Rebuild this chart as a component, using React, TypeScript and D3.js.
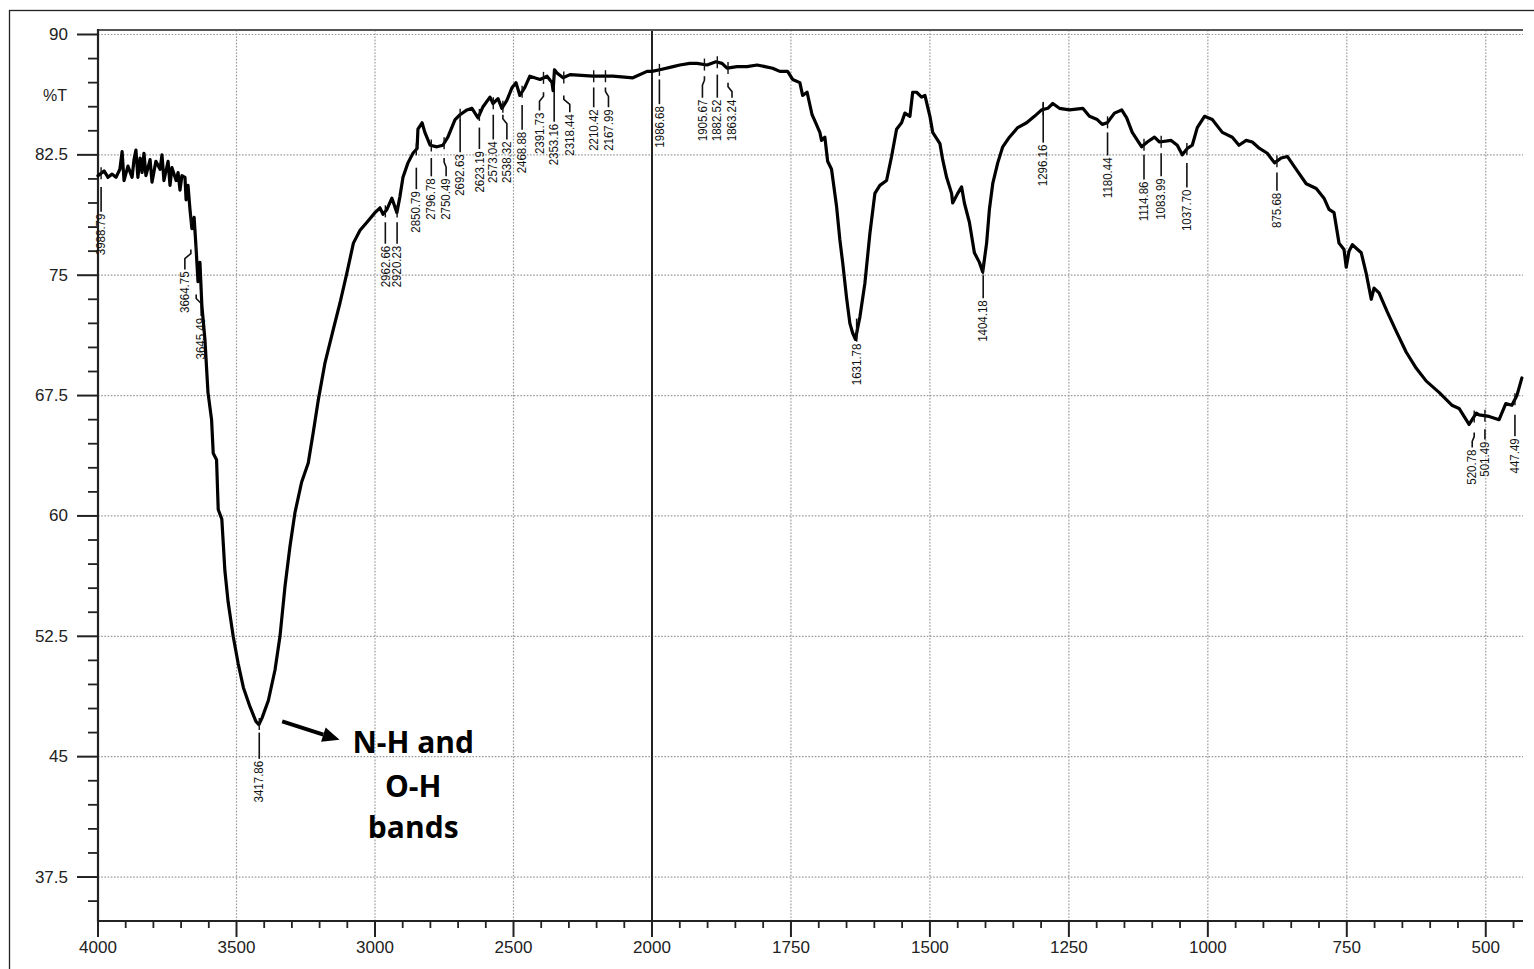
import React from "react";
import * as d3 from "d3";

// ---------- DATA ----------
// FTIR spectrum: [wavenumber (cm-1), %T]
const ohRegion: [number, number][] = [
  [4000, 81.2], [3978, 81.5], [3964, 81.1], [3949, 81.3], [3935, 81.1], [3921, 81.6], [3913, 82.7],
  [3906, 80.9], [3892, 81.8], [3877, 81.1], [3870, 82.2], [3863, 82.8], [3856, 81.1], [3848, 82.3],
  [3841, 81.4], [3834, 82.6], [3827, 81.2], [3812, 82.2], [3805, 80.8], [3791, 82.1], [3776, 81.6],
  [3769, 82.5], [3762, 80.9], [3747, 82.1], [3740, 80.6], [3733, 81.7], [3718, 80.9], [3711, 81.4],
  [3704, 80.3], [3697, 81.2], [3686, 81.1], [3682, 79.7], [3675, 80.6], [3668, 79.1], [3661, 77.9],
  [3653, 78.6], [3646, 76.7], [3639, 74.6], [3632, 75.8], [3625, 73.1], [3614, 71.0], [3603, 67.7],
  [3590, 66.0], [3584, 63.9], [3572, 63.5], [3566, 60.4], [3553, 59.8], [3542, 56.6], [3530, 54.6],
  [3512, 52.5], [3494, 50.8], [3475, 49.3], [3451, 48.1], [3430, 47.2], [3419, 47.0], [3408, 47.4],
  [3385, 48.5], [3361, 50.4], [3343, 52.5], [3325, 55.6], [3307, 58.1], [3289, 60.2], [3265, 62.1],
  [3241, 63.3], [3223, 65.2], [3205, 67.2], [3181, 69.5], [3151, 71.6], [3126, 73.3], [3102, 75.1],
  [3078, 77.0], [3054, 77.8], [3029, 78.3],
];

const chRegion: [number, number][] = [
  [3000, 78.9], [2982, 79.2], [2971, 78.8], [2957, 79.1], [2939, 79.8], [2921, 78.9], [2910, 79.9],
  [2899, 81.1], [2881, 82.0], [2863, 82.6], [2848, 82.9], [2845, 84.1], [2830, 84.5], [2820, 83.9],
  [2801, 83.1], [2776, 83.0], [2755, 83.1], [2737, 83.6], [2711, 84.7], [2693, 85.0], [2668, 85.3],
  [2650, 85.4], [2628, 84.8], [2610, 85.5], [2585, 86.1], [2574, 85.7], [2556, 86.0], [2542, 85.4],
  [2524, 85.9], [2505, 86.7], [2491, 87.0], [2477, 86.2], [2459, 86.7], [2441, 87.4], [2404, 87.2],
  [2379, 87.4], [2361, 87.0], [2357, 86.5], [2352, 87.8], [2343, 87.6], [2321, 87.3], [2296, 87.5],
  [2213, 87.4], [2141, 87.4], [2069, 87.3], [2018, 87.7],
];

const amideRegion: [number, number][] = [
  [2000, 87.7], [1986, 87.8], [1962, 88.0], [1950, 88.1], [1932, 88.2], [1919, 88.2], [1901, 88.1],
  [1885, 88.3], [1874, 88.2], [1865, 87.9], [1847, 88.0], [1829, 88.0], [1811, 88.1], [1783, 87.9],
  [1770, 87.7], [1756, 87.7], [1747, 87.2], [1734, 87.0], [1729, 86.2], [1721, 86.4], [1712, 85.0],
  [1708, 84.7], [1698, 83.9], [1695, 83.4], [1689, 83.6], [1684, 82.1], [1677, 81.6], [1668, 79.3],
  [1662, 77.2], [1657, 75.8], [1650, 73.6], [1644, 72.0], [1639, 71.4], [1634, 71.0], [1626, 72.4],
  [1617, 74.5], [1608, 77.6], [1599, 80.1], [1590, 80.6], [1578, 80.9], [1569, 82.4], [1560, 84.1],
  [1551, 84.5], [1545, 85.1], [1536, 84.9], [1531, 86.4], [1524, 86.4], [1515, 86.1], [1509, 86.2],
  [1500, 84.9], [1495, 83.9], [1482, 83.2], [1477, 82.2], [1470, 81.1], [1461, 80.1], [1459, 79.5],
  [1450, 80.1], [1443, 80.5], [1438, 79.5], [1429, 78.3], [1420, 76.4], [1411, 75.8], [1405, 75.2],
  [1398, 77.0], [1393, 79.1], [1387, 80.7], [1378, 82.0], [1369, 83.0], [1357, 83.6], [1342, 84.2],
  [1326, 84.5], [1312, 84.9], [1299, 85.3], [1288, 85.4], [1279, 85.7], [1267, 85.4],
];

const fingerprintRegion: [number, number][] = [
  [1249, 85.3], [1225, 85.4], [1213, 84.9], [1199, 84.7], [1190, 84.4], [1181, 84.5], [1168, 85.1],
  [1155, 85.3], [1146, 84.8], [1136, 83.9], [1119, 83.0], [1109, 83.3], [1096, 83.6], [1087, 83.3],
  [1066, 83.4], [1055, 83.1], [1046, 82.5], [1037, 82.9], [1028, 83.1], [1019, 84.2], [1006, 84.9],
  [992, 84.7], [974, 83.9], [956, 83.6], [944, 83.1], [931, 83.4], [920, 83.3], [907, 82.9],
  [893, 82.6], [880, 82.0], [868, 82.3], [857, 82.4], [841, 81.6], [823, 80.7], [805, 80.4],
  [791, 79.8], [782, 79.1], [773, 78.9], [764, 77.0], [755, 76.6], [751, 75.5], [746, 76.5],
  [740, 76.9], [724, 76.4], [715, 75.1], [706, 73.5], [701, 74.2], [692, 73.9], [677, 72.7],
  [661, 71.5], [643, 70.2], [625, 69.2], [607, 68.4], [584, 67.7], [561, 66.9], [548, 66.7],
  [530, 65.7], [517, 66.4], [512, 66.3], [494, 66.2], [476, 66.0], [464, 67.0], [453, 66.9],
  [444, 67.5], [435, 68.6],
];

// Peak labels
const peakWavenumbers = [
  3988.79, 3664.75, 3645.49, 3417.86, 2962.66, 2920.23, 2850.79, 2796.78, 2750.49, 2692.63,
  2623.19, 2573.04, 2538.32, 2468.88, 2391.73, 2353.16, 2318.44, 2210.42, 2167.99, 1986.68,
  1905.67, 1882.52, 1863.24, 1631.78, 1404.18, 1296.16, 1180.44, 1114.86, 1083.99, 1037.7,
  875.68, 520.78, 501.49, 447.49,
];
const peakLabels = [
  "3988.79", "3664.75", "3645.49", "3417.86", "2962.66", "2920.23", "2850.79", "2796.78", "2750.49", "2692.63",
  "2623.19", "2573.04", "2538.32", "2468.88", "2391.73", "2353.16", "2318.44", "2210.42", "2167.99", "1986.68",
  "1905.67", "1882.52", "1863.24", "1631.78", "1404.18", "1296.16", "1180.44", "1114.86", "1083.99", "1037.70",
  "875.68", "520.78", "501.49", "447.49",
];

// x-axis and y-axis ticks
const xMajorTicks = [4000, 3500, 3000, 2500, 2000, 1750, 1500, 1250, 1000, 750, 500];
const yMajorTicks = [37.5, 45, 52.5, 60, 67.5, 75, 82.5, 90];
const yTickLabels = ["37.5", "45", "52.5", "60", "67.5", "75", "82.5", "90"];
const annotationLines = ["N-H and", "O-H", "bands"];

// ---------- LAYOUT (label placement, in %T units / px offsets) ----------
const labelStemTop = [
  80.5, 76.6, 73.8, 46.5, 78.3, 78.3, 81.7, 82.3, 82.3, 84.7,
  84.2, 85.0, 85.0, 85.6, 86.4, 86.7, 86.2, 86.7, 86.7, 87.2,
  87.4, 87.5, 87.0, 72.3, 75.0, 85.8, 83.9, 82.5, 82.6, 82.0,
  81.4, 65.2, 65.4, 66.3,
];
const labelTextTop = [
  78.9, 75.3, 72.4, 44.8, 76.9, 76.9, 80.3, 81.1, 81.1, 82.6,
  82.8, 83.4, 83.4, 84.0, 85.2, 84.5, 85.1, 85.4, 85.4, 85.6,
  86.0, 86.0, 86.0, 70.8, 73.5, 83.2, 82.4, 80.9, 81.1, 80.4,
  80.2, 64.2, 64.7, 64.9,
];
const labelDx = [
  0, -6, 5, 0, 0, 0, 0, 0, 2, 0,
  0, 0, 4, 0, -4, 0, 6, 0, 3, 0,
  -2, 0, 4, 0, 0, 0, 0, 0, 0, 0,
  0, -2, 0, 0,
];

const W = 1534;
const H = 969;

export default function App() {
  const spectrum = [...ohRegion, ...chRegion, ...amideRegion, ...fingerprintRegion];

  const xScale = d3.scaleLinear().domain([4000, 2000, 433]).range([98, 652, 1523]);
  const yScale = d3.scaleLinear().domain([34.76, 90.28]).range([921, 30]);

  const line = d3
    .line<[number, number]>()
    .x((d) => xScale(d[0]))
    .y((d) => yScale(d[1]));

  // interpolate curve value at a wavenumber
  const asc = [...spectrum].sort((a, b) => a[0] - b[0]);
  const interpT = (wn: number) => {
    const i = d3.bisector((d: [number, number]) => d[0]).left(asc, wn);
    if (i <= 0) return asc[0][1];
    if (i >= asc.length) return asc[asc.length - 1][1];
    const a = asc[i - 1];
    const b = asc[i];
    const t = (wn - a[0]) / (b[0] - a[0]);
    return a[1] + t * (b[1] - a[1]);
  };

  const xMinorLeft = d3.range(3900, 2000, -100);
  const xMinorRight = d3.range(1950, 433, -50);
  const xMinor = [...xMinorLeft, ...xMinorRight].filter((v) => !xMajorTicks.includes(v));
  const yMinor = d3.range(36, 90.01, 1.5).filter((v) => !yMajorTicks.some((m) => Math.abs(m - v) < 1e-6));

  const axisFont = "'Liberation Sans', Arial, sans-serif";
  const left = xScale(4000);
  const right = xScale(433);
  const top = yScale(90.28);
  const bottom = yScale(34.76);

  // annotation positions in data coordinates
  const arrowStart: [number, number] = [3335, 47.2];
  const arrowEnd: [number, number] = [3128, 46.05];
  const ax1 = xScale(arrowStart[0]);
  const ay1 = yScale(arrowStart[1]);
  const ax2 = xScale(arrowEnd[0]);
  const ay2 = yScale(arrowEnd[1]);
  const ang = Math.atan2(ay2 - ay1, ax2 - ax1);
  const headLen = 17;
  const headW = 7.5;
  const bx = ax2 - headLen * Math.cos(ang);
  const by = ay2 - headLen * Math.sin(ang);
  const px = -Math.sin(ang);
  const py = Math.cos(ang);

  const annX = xScale(2862);
  const annBaselines = [45.23, 42.49, 39.94];

  return (
    <svg
      width={W}
      height={H}
      style={{ position: "absolute", left: 0, top: 0, background: "#fff" }}
      xmlns="http://www.w3.org/2000/svg"
    >
      <rect x={0} y={0} width={W} height={H} fill="#fff" />
      {/* outer frame */}
      <rect x={9.5} y={10.5} width={W + 20} height={H + 20} fill="none" stroke="#222" strokeWidth={1.3} />

      {/* grid */}
      {xMajorTicks
        .filter((v) => v !== 4000 && v !== 2000)
        .map((v) => (
          <line
            key={"gx" + v}
            x1={xScale(v)}
            x2={xScale(v)}
            y1={top}
            y2={bottom}
            stroke="#999"
            strokeWidth={1.2}
            strokeDasharray="1.6 1.6"
          />
        ))}
      {yMajorTicks.map((v) => (
        <line
          key={"gy" + v}
          x1={left}
          x2={right}
          y1={yScale(v)}
          y2={yScale(v)}
          stroke="#999"
          strokeWidth={1.2}
          strokeDasharray="1.6 1.6"
        />
      ))}

      {/* solid divider at 2000 */}
      <line x1={xScale(2000)} x2={xScale(2000)} y1={top} y2={bottom} stroke="#222" strokeWidth={2} />

      {/* top border */}
      <line x1={left} x2={right} y1={top} y2={top} stroke="#555" strokeWidth={2.2} />

      {/* axes */}
      <line x1={left} x2={left} y1={top - 1} y2={bottom + 1} stroke="#222" strokeWidth={2.2} />
      <line x1={left - 1} x2={right} y1={bottom} y2={bottom} stroke="#222" strokeWidth={2.2} />

      {/* y ticks */}
      {yMajorTicks.map((v, i) => (
        <g key={"yt" + v}>
          <line x1={left - 21} x2={left} y1={yScale(v)} y2={yScale(v)} stroke="#222" strokeWidth={2} />
          <text
            x={68}
            y={yScale(v)}
            textAnchor="end"
            dominantBaseline="central"
            fontFamily={axisFont}
            fontSize={17}
            fill="#222"
          >
            {yTickLabels[i]}
          </text>
        </g>
      ))}
      {yMinor.map((v) => (
        <line key={"ym" + v} x1={left - 10} x2={left} y1={yScale(v)} y2={yScale(v)} stroke="#222" strokeWidth={1.8} />
      ))}
      <text x={67} y={95} textAnchor="end" dominantBaseline="central" fontFamily={axisFont} fontSize={16} fill="#222">
        %T
      </text>

      {/* x ticks */}
      {xMajorTicks.map((v) => (
        <g key={"xt" + v}>
          <line x1={xScale(v)} x2={xScale(v)} y1={bottom} y2={bottom + 16} stroke="#222" strokeWidth={2} />
          <text
            x={xScale(v)}
            y={953}
            textAnchor="middle"
            fontFamily={axisFont}
            fontSize={17}
            fill="#222"
          >
            {v}
          </text>
        </g>
      ))}
      {xMinor.map((v) => (
        <line key={"xm" + v} x1={xScale(v)} x2={xScale(v)} y1={bottom} y2={bottom + 7} stroke="#222" strokeWidth={1.8} />
      ))}

      {/* peak labels (behind the curve) */}
      {peakWavenumbers.map((wn, i) => {
        const x0 = xScale(wn);
        const xl = x0 + labelDx[i];
        const sTop = yScale(labelStemTop[i]);
        const tTop = yScale(labelTextTop[i]);
        const stem =
          labelDx[i] === 0
            ? `M${x0},${sTop} L${x0},${tTop - 1}`
            : `M${x0},${sTop} L${x0},${sTop + 4} L${xl},${sTop + 9} L${xl},${tTop - 1}`;
        return (
          <g key={"pl" + i}>
            <path d={stem} fill="none" stroke="#111" strokeWidth={1.6} />
            <text
              transform={`translate(${xl},${tTop + 1}) rotate(-90) scale(0.92,1)`}
              textAnchor="end"
              dominantBaseline="central"
              fontFamily={axisFont}
              fontSize={12.5}
              fill="#111"
            >
              {peakLabels[i]}
            </text>
          </g>
        );
      })}

      {/* spectrum */}
      <path
        d={line(spectrum) || ""}
        fill="none"
        stroke="#000"
        strokeWidth={3.2}
        strokeLinejoin="round"
        strokeLinecap="round"
      />

      {/* peak markers on the curve */}
      {peakWavenumbers.map((wn, i) => {
        const x0 = xScale(wn);
        const cy = yScale(interpT(wn));
        return <line key={"pm" + i} x1={x0} x2={x0} y1={cy - 6} y2={cy + 6} stroke="#111" strokeWidth={1.4} />;
      })}

      {/* annotation arrow */}
      <line x1={ax1} y1={ay1} x2={bx} y2={by} stroke="#000" strokeWidth={4} />
      <polygon
        points={`${ax2},${ay2} ${bx + px * headW},${by + py * headW} ${bx - px * headW},${by - py * headW}`}
        fill="#000"
      />
      {annotationLines.map((t, i) => (
        <text
          key={"ann" + i}
          x={annX}
          y={yScale(annBaselines[i])}
          textAnchor="middle"
          fontFamily="'Open Sans', 'Noto Sans', sans-serif"
          fontWeight={700}
          fontSize={30}
          fill="#000"
        >
          {t}
        </text>
      ))}
    </svg>
  );
}
